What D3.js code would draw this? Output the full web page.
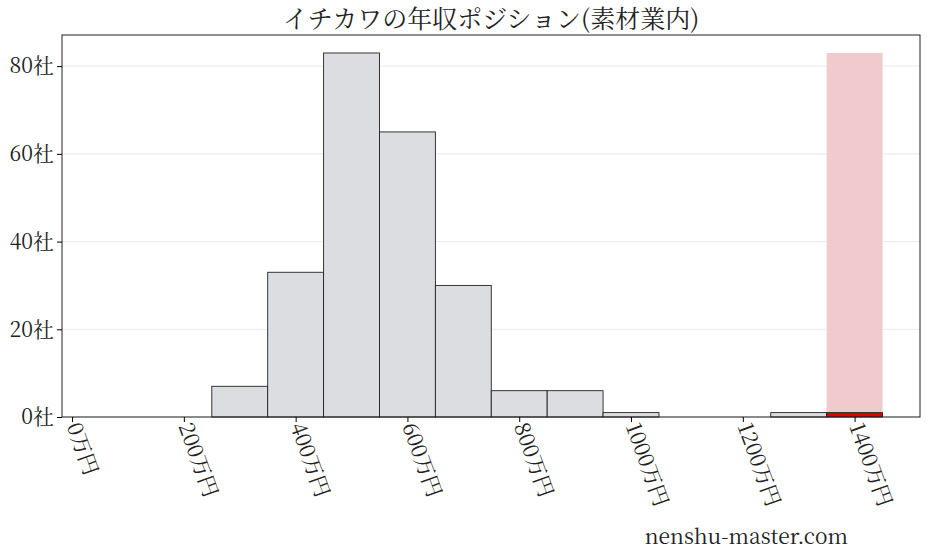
<!DOCTYPE html>
<html><head><meta charset="utf-8">
<script src="https://cdn.jsdelivr.net/npm/d3@7"></script>
<style>body{margin:0;background:#fff}</style></head>
<body><svg id="c" width="927" height="557"></svg>
<script>
const binStarts = [50,150,250,350,450,550,650,750,850,950,1050,1150,1250];
const counts    = [0,0,7,33,83,65,30,6,6,1,0,0,1];
const highlightStart = 1350, highlightCount = 1, highlightMax = 83;
const xTicks = [0,200,400,600,800,1000,1200,1400];
const yTicks = [0,20,40,60,80];
const title = "イチカワの年収ポジション(素材業内)";
const font = "'Noto Serif CJK JP','Noto Sans CJK JP',serif";

const svg = d3.select("#c");
const m = {l:62, r:920, t:35, b:417};
const x = d3.scaleLinear().domain([-18,1517]).range([m.l,m.r]);
const y = d3.scaleLinear().domain([0,87.1]).range([m.b,m.t]);

svg.append("g").selectAll("line").data(yTicks).join("line")
  .attr("x1",m.l).attr("x2",m.r).attr("y1",d=>y(d)).attr("y2",d=>y(d))
  .attr("stroke","#e3e3e3").attr("stroke-width",0.8);

svg.append("rect").attr("x",x(highlightStart)).attr("width",x(highlightStart+100)-x(highlightStart))
  .attr("y",y(highlightMax)).attr("height",y(0)-y(highlightMax)).attr("fill","#f0cacc");

svg.append("g").selectAll("rect").data(binStarts).join("rect")
  .attr("x",d=>x(d)).attr("width",d=>x(d+100)-x(d))
  .attr("y",(d,i)=>y(counts[i])).attr("height",(d,i)=>y(0)-y(counts[i]))
  .attr("fill","#dcdde0").attr("stroke","#222").attr("stroke-width",0.9);

svg.append("rect").attr("x",x(highlightStart)).attr("width",x(highlightStart+100)-x(highlightStart))
  .attr("y",y(highlightCount)).attr("height",y(0)-y(highlightCount))
  .attr("fill","#dd0000").attr("stroke","#222").attr("stroke-width",0.9);

svg.append("rect").attr("x",m.l).attr("y",m.t).attr("width",m.r-m.l).attr("height",m.b-m.t)
  .attr("fill","none").attr("stroke","#222").attr("stroke-width",1);

const xa = svg.append("g").attr("transform",`translate(0,${m.b})`)
  .call(d3.axisBottom(x).tickValues(xTicks).tickSize(5).tickFormat(d=>d+"万円"));
xa.select(".domain").remove();
xa.selectAll("text").attr("font-family",font).attr("font-size",21).attr("fill","#222")
  .attr("text-anchor","start").attr("dy",0).attr("y",0)
  .attr("transform","translate(-6,9) rotate(70)");

const ya = svg.append("g").attr("transform",`translate(${m.l},0)`)
  .call(d3.axisLeft(y).tickValues(yTicks).tickSize(5).tickFormat(d=>d+"社"));
ya.select(".domain").remove();
ya.selectAll("text").attr("font-family",font).attr("font-size",21).attr("fill","#222");

svg.append("text").attr("x",(m.l+m.r)/2).attr("y",28).attr("text-anchor","middle")
  .attr("font-family",font).attr("font-size",25).attr("fill","#222").text(title);
svg.append("text").attr("x",848).attr("y",544).attr("text-anchor","end")
  .attr("font-family",font).attr("font-size",21).attr("fill","#222").text("nenshu-master.com");
</script></body></html>
